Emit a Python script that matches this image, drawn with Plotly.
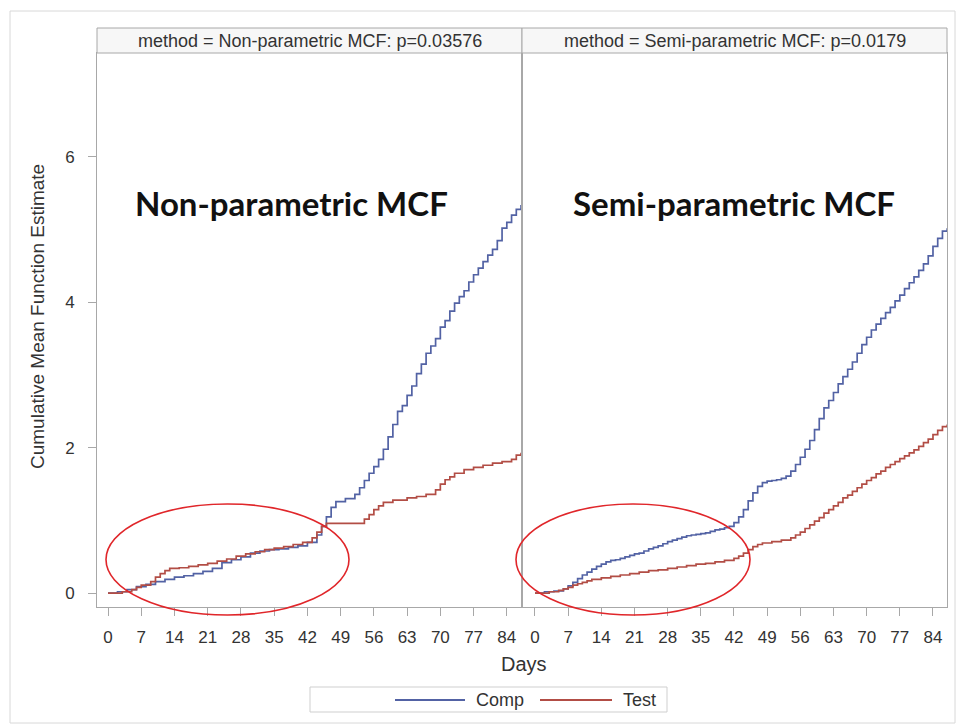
import plotly.graph_objects as go
from plotly.subplots import make_subplots

# ---------------- data ----------------
np_comp_days = [0, 2, 4, 6, 8, 10, 12, 14, 16, 18, 20, 22, 24, 26, 28, 30, 32, 34, 36, 38, 40, 42,
                44, 45, 46, 47, 48, 50, 52, 53, 54, 55, 56, 57, 58, 59, 60, 61, 62, 63, 64, 65, 66,
                67, 68, 69, 70, 71, 72, 73, 74, 75, 76, 77, 78, 79, 80, 81, 82, 83, 84, 85, 86, 87]
np_comp_mcf = [0.00, 0.02, 0.05, 0.09, 0.12, 0.16, 0.19, 0.22, 0.24, 0.27, 0.30, 0.34, 0.42, 0.46,
               0.50, 0.55, 0.58, 0.60, 0.61, 0.63, 0.65, 0.70, 0.80, 0.92, 1.05, 1.18, 1.26, 1.30,
               1.36, 1.45, 1.55, 1.65, 1.74, 1.84, 1.98, 2.15, 2.32, 2.50, 2.58, 2.72, 2.85, 3.02,
               3.15, 3.30, 3.40, 3.50, 3.66, 3.75, 3.88, 3.99, 4.08, 4.16, 4.28, 4.38, 4.47, 4.56,
               4.65, 4.73, 4.85, 5.02, 5.10, 5.20, 5.28, 5.34]

np_test_days = [0, 3, 5, 6, 7, 9, 10, 11, 12, 13, 15, 17, 19, 21, 23, 25, 27, 29, 31, 33, 35, 37,
                39, 41, 43, 44, 45, 46, 54, 55, 56, 57, 58, 60, 63, 65, 67, 69, 70, 71, 72, 73, 75,
                77, 79, 81, 83, 85, 86, 87]
np_test_mcf = [0.00, 0.02, 0.05, 0.08, 0.11, 0.16, 0.22, 0.27, 0.31, 0.34, 0.35, 0.37, 0.39, 0.41,
               0.44, 0.47, 0.51, 0.54, 0.57, 0.60, 0.62, 0.64, 0.67, 0.70, 0.76, 0.84, 0.92, 0.96,
               1.02, 1.08, 1.15, 1.20, 1.25, 1.28, 1.31, 1.33, 1.36, 1.42, 1.50, 1.56, 1.60, 1.65,
               1.70, 1.73, 1.76, 1.79, 1.81, 1.84, 1.90, 1.93]

sp_comp_days = [0, 2, 4, 6, 7, 8, 9, 10, 11, 12, 13, 14, 15, 16, 17, 18, 19, 20, 21, 22, 23, 24,
                25, 26, 27, 28, 29, 30, 31, 32, 33, 34, 35, 36, 37, 38, 39, 40, 41, 42, 43, 44, 45,
                46, 47, 48, 49, 50, 51, 52, 53, 54, 55, 56, 57, 58, 59, 60, 61, 62, 63, 64, 65, 66,
                67, 68, 69, 70, 71, 72, 73, 74, 75, 76, 77, 78, 79, 80, 81, 82, 83, 84, 85, 86, 87]
sp_comp_mcf = [0.00, 0.02, 0.03, 0.06, 0.10, 0.15, 0.20, 0.25, 0.29, 0.33, 0.37, 0.40, 0.43, 0.45,
               0.46, 0.48, 0.50, 0.52, 0.54, 0.55, 0.58, 0.61, 0.63, 0.65, 0.68, 0.71, 0.73, 0.75,
               0.77, 0.79, 0.80, 0.81, 0.82, 0.83, 0.85, 0.87, 0.88, 0.90, 0.92, 0.97, 1.05, 1.15,
               1.27, 1.38, 1.47, 1.52, 1.54, 1.55, 1.56, 1.58, 1.61, 1.68, 1.77, 1.87, 1.98, 2.10,
               2.25, 2.40, 2.55, 2.65, 2.76, 2.88, 2.98, 3.08, 3.18, 3.30, 3.42, 3.52, 3.62, 3.70,
               3.78, 3.86, 3.93, 4.02, 4.10, 4.19, 4.27, 4.35, 4.44, 4.53, 4.64, 4.77, 4.88, 4.98,
               5.02]

sp_test_days = [0, 3, 5, 6, 7, 8, 9, 10, 11, 12, 14, 16, 18, 20, 22, 24, 26, 28, 30, 32, 34, 36,
                38, 40, 42, 43, 44, 45, 46, 47, 48, 50, 52, 54, 55, 56, 57, 58, 59, 60, 61, 62, 63,
                64, 65, 66, 67, 68, 69, 70, 71, 72, 73, 74, 75, 76, 77, 78, 79, 80, 81, 82, 83, 84,
                85, 86, 87]
sp_test_mcf = [0.00, 0.02, 0.04, 0.06, 0.08, 0.11, 0.13, 0.15, 0.17, 0.19, 0.21, 0.23, 0.25, 0.27,
               0.29, 0.31, 0.32, 0.34, 0.36, 0.38, 0.40, 0.41, 0.43, 0.45, 0.48, 0.51, 0.55, 0.60,
               0.64, 0.67, 0.69, 0.71, 0.73, 0.76, 0.80, 0.84, 0.89, 0.94, 0.99, 1.04, 1.10, 1.15,
               1.20, 1.25, 1.31, 1.35, 1.40, 1.45, 1.50, 1.55, 1.59, 1.64, 1.68, 1.73, 1.77, 1.81,
               1.85, 1.89, 1.93, 1.97, 2.02, 2.07, 2.12, 2.18, 2.24, 2.29, 2.32]

panel_titles = ["method = Non-parametric MCF: p=0.03576",
                "method = Semi-parametric MCF: p=0.0179"]
panel_labels = ["Non-parametric MCF", "Semi-parametric MCF"]
x_ticks = [0, 7, 14, 21, 28, 35, 42, 49, 56, 63, 70, 77, 84]
y_ticks = [0, 2, 4, 6]
series_names = ["Comp", "Test"]
y_title = "Cumulative Mean Function Estimate"
x_title = "Days"

# ---------------- styling ----------------
COMP_COLOR = "#5262a4"
TEST_COLOR = "#b24d45"
FRAME = "#a8a8a8"
TXT = "#333333"
FONT = "Liberation Sans, Arial, sans-serif"

W, H = 956, 725
ML, MR, MT, MB = 97, 9, 53, 118
PW, PH = W - ML - MR, H - MT - MB


def px(xp):
    return (xp - ML) / PW


def py(yp):
    return (H - MB - yp) / PH


fig = make_subplots(rows=1, cols=2, shared_yaxes=True, horizontal_spacing=0.0)

panels = [
    (np_comp_days, np_comp_mcf, np_test_days, np_test_mcf),
    (sp_comp_days, sp_comp_mcf, sp_test_days, sp_test_mcf),
]
for i, (cd, cv, td, tv) in enumerate(panels):
    fig.add_trace(go.Scatter(x=cd, y=cv, mode="lines", line=dict(color=COMP_COLOR, width=1.7, shape="hv"),
                             name=series_names[0], showlegend=False), row=1, col=i + 1)
    fig.add_trace(go.Scatter(x=td, y=tv, mode="lines", line=dict(color=TEST_COLOR, width=1.7, shape="hv"),
                             name=series_names[1], showlegend=False), row=1, col=i + 1)

axis_common = dict(showline=True, linecolor=FRAME, linewidth=1, mirror=True, showgrid=False,
                   zeroline=False, ticks="outside", ticklen=8, tickcolor=FRAME,
                   tickfont=dict(family=FONT, size=17, color=TXT))

fig.update_xaxes(**axis_common, tickvals=x_ticks, ticktext=[str(t) for t in x_ticks], ticklabelstandoff=7)
fig.update_xaxes(range=[-2.32, 87.2], domain=[0, 0.5], row=1, col=1)
fig.update_xaxes(range=[-2.74, 86.96], domain=[0.5, 1], row=1, col=2)
fig.update_yaxes(**axis_common, range=[-0.19, 7.43], tickvals=y_ticks, ticklabelstandoff=10)
fig.update_yaxes(showticklabels=False, ticks="", row=1, col=2)

shapes = []
annotations = []
# outer frame
shapes.append(dict(type="rect", xref="paper", yref="paper", x0=px(10), x1=px(955), y0=py(723), y1=py(11),
                   line=dict(color="#d8d8d8", width=1), fillcolor="rgba(0,0,0,0)", layer="below"))
# header strips
for i, (x0, x1) in enumerate([(0, 0.5), (0.5, 1.0)]):
    shapes.append(dict(type="rect", xref="paper", yref="paper", x0=x0, x1=x1, y0=1.0, y1=py(28),
                       line=dict(color=FRAME, width=1), fillcolor="#f7f7f7"))
    annotations.append(dict(xref="paper", yref="paper", x=(x0 + x1) / 2, y=(1.0 + py(28)) / 2,
                            text=panel_titles[i], showarrow=False,
                            font=dict(family=FONT, size=18, color=TXT), xanchor="center", yanchor="middle"))
# big labels
for cx, lbl in zip([291, 734], panel_labels):
    annotations.append(dict(xref="paper", yref="paper", x=px(cx), y=py(203), text="<b>%s</b>" % lbl,
                            showarrow=False, font=dict(family="Lato, Carlito, sans-serif", size=33, color="#111111"),
                            xanchor="center", yanchor="middle"))
# red ellipses
for (ex0, ex1) in [(106, 349), (516, 750)]:
    shapes.append(dict(type="circle", xref="paper", yref="paper", x0=px(ex0), x1=px(ex1), y0=py(615), y1=py(504),
                       line=dict(color="#e0262a", width=1.6)))
# axis titles
annotations.append(dict(xref="paper", yref="paper", x=px(524), y=py(664), text=x_title, showarrow=False,
                        font=dict(family=FONT, size=20, color=TXT), xanchor="center", yanchor="middle"))
annotations.append(dict(xref="paper", yref="paper", x=px(37), y=py(317), text=y_title, showarrow=False,
                        textangle=-90, font=dict(family=FONT, size=19, color=TXT),
                        xanchor="center", yanchor="middle"))
# legend box and entries
shapes.append(dict(type="rect", xref="paper", yref="paper", x0=px(310), x1=px(667), y0=py(712), y1=py(687),
                   line=dict(color="#cfcfcf", width=1), fillcolor="rgba(0,0,0,0)"))
for (lx0, lx1, tx, col, name) in [(395, 465, 474, COMP_COLOR, series_names[0]),
                                  (540, 612, 621, TEST_COLOR, series_names[1])]:
    shapes.append(dict(type="line", xref="paper", yref="paper", x0=px(lx0), x1=px(lx1), y0=py(700), y1=py(700),
                       line=dict(color=col, width=1.8)))
    annotations.append(dict(xref="paper", yref="paper", x=px(tx), y=py(700), text=name, showarrow=False,
                            font=dict(family=FONT, size=18, color=TXT), xanchor="left", yanchor="middle"))

fig.update_layout(
    width=W, height=H,
    margin=dict(l=ML, r=MR, t=MT, b=MB),
    paper_bgcolor="white", plot_bgcolor="white",
    shapes=shapes, annotations=annotations,
    showlegend=False,
)

fig.write_html("out.html")
